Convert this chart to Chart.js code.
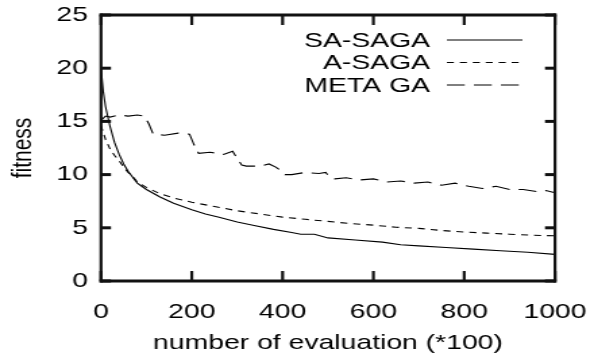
<!DOCTYPE html>
<html lang="en">
<head>
  <meta charset="UTF-8" />
  <title>fitness vs number of evaluation</title>
  <style>
    body { margin: 0; background: #fff; }
    #chart { display: block; }
  </style>
</head>
<body>
  <!-- drawn narrow and stretched sideways, like the original figure -->
  <canvas id="chart" width="440" height="356" style="width:594px;height:356px"></canvas>

  <script src="https://cdn.jsdelivr.net/npm/chart.js"></script>
  <script>
    // SA-SAGA (solid)
    const saX = [0, 5, 10, 20, 30, 40, 50, 60, 80, 100, 130, 160, 200, 230, 260, 300, 340, 380, 420, 440, 470, 500, 560, 620, 660, 700, 760, 820, 880, 940, 1000];
    const saY = [20, 17.8, 16.4, 14.5, 13, 11.9, 11, 10.3, 9.2, 8.6, 7.9, 7.3, 6.7, 6.3, 6.0, 5.55, 5.2, 4.85, 4.55, 4.4, 4.4, 4.05, 3.85, 3.65, 3.4, 3.3, 3.15, 3.0, 2.85, 2.7, 2.5];

    // A-SAGA (short dashes)
    const aX = [0, 10, 20, 30, 40, 50, 60, 70, 80, 100, 130, 160, 200, 250, 300, 350, 400, 450, 500, 550, 600, 650, 700, 750, 800, 850, 900, 950, 1000];
    const aY = [14.6, 13.3, 12.4, 11.8, 11.3, 10.7, 10.2, 9.8, 9.3, 8.8, 8.2, 7.8, 7.4, 7.0, 6.6, 6.3, 6.0, 5.8, 5.6, 5.4, 5.25, 5.05, 4.95, 4.75, 4.6, 4.5, 4.4, 4.3, 4.25];

    // META GA (long dashes)
    const metaX = [0, 10, 20, 40, 60, 80, 95, 105, 115, 140, 170, 195, 205, 215, 240, 270, 290, 300, 310, 320, 350, 370, 385, 395, 405, 420, 450, 480, 495, 505, 515, 540, 570, 600, 630, 660, 690, 720, 750, 780, 810, 840, 870, 900, 930, 960, 980, 1000];
    const metaY = [15.1, 15.5, 15.4, 15.6, 15.5, 15.6, 15.5, 14.8, 13.8, 13.7, 13.9, 13.8, 12.8, 12.0, 12.1, 11.9, 12.2, 11.5, 10.9, 10.8, 10.8, 11.0, 10.7, 10.4, 10.0, 10.0, 10.2, 10.1, 10.2, 9.7, 9.6, 9.7, 9.5, 9.6, 9.3, 9.4, 9.2, 9.3, 9.0, 9.2, 8.9, 8.7, 8.9, 8.6, 8.6, 8.4, 8.5, 8.3];

    const labels = ['SA-SAGA', 'A-SAGA', 'META GA'];

    function pts(xs, ys) {
      return xs.map((x, i) => ({ x: x, y: ys[i] }));
    }

    const FONT = '"Liberation Sans", Arial, sans-serif';
    const font = { family: FONT, size: 21 };
    const INK = '#111';

    // box round the plot with inward ticks on all four sides, then the key
    const frame = {
      id: 'frame',
      afterDraw(chart) {
        const ctx = chart.ctx;
        const a = chart.chartArea;
        const xs = chart.scales.x;
        const ys = chart.scales.y;
        ctx.save();
        ctx.fillStyle = INK;
        ctx.fillRect(a.left - 1.1, a.top - 1.5, 2.2, a.bottom - a.top + 3);
        ctx.fillRect(a.right - 1.1, a.top - 1.5, 2.2, a.bottom - a.top + 3);
        ctx.fillRect(a.left - 1.1, a.top - 1.5, a.right - a.left + 2.2, 3);
        ctx.fillRect(a.left - 1.1, a.bottom - 1.5, a.right - a.left + 2.2, 3);
        xs.ticks.forEach(t => {
          const px = xs.getPixelForValue(t.value);
          ctx.fillRect(px - 1.1, a.bottom - 10, 2.2, 10);
          ctx.fillRect(px - 1.1, a.top, 2.2, 10);
        });
        ys.ticks.forEach(t => {
          const py = ys.getPixelForValue(t.value);
          ctx.fillRect(a.left, py - 1.5, 7.4, 3);
          ctx.fillRect(a.right - 7.4, py - 1.5, 7.4, 3);
        });

        ctx.font = '21px ' + FONT;
        ctx.textAlign = 'right';
        ctx.textBaseline = 'middle';
        ctx.fillStyle = '#000';
        ctx.strokeStyle = '#000';
        ctx.lineWidth = 1;
        chart.data.datasets.forEach((ds, i) => {
          const ly = 40 + i * 22.5;
          ctx.fillText(ds.label, 318.5, ly + 1);
          ctx.setLineDash(ds.borderDash || []);
          ctx.beginPath();
          ctx.moveTo(331, ly);
          ctx.lineTo(387, ly);
          ctx.stroke();
        });
        ctx.restore();
      }
    };

    new Chart(document.getElementById('chart'), {
      type: 'line',
      data: {
        datasets: [
          { label: labels[0], data: pts(saX, saY), borderColor: '#000', borderWidth: 1.1, borderDash: [] },
          { label: labels[1], data: pts(aX, aY), borderColor: '#000', borderWidth: 1.1, borderDash: [5.2, 4.4] },
          { label: labels[2], data: pts(metaX, metaY), borderColor: '#000', borderWidth: 1.1, borderDash: [13.3, 6.7] }
        ]
      },
      options: {
        responsive: false,
        animation: false,
        layout: { padding: { top: 15, right: 28.9, left: 0, bottom: 0 } },
        elements: { point: { radius: 0 }, line: { tension: 0 } },
        plugins: { legend: { display: false }, tooltip: { enabled: false } },
        scales: {
          x: {
            type: 'linear',
            min: 0,
            max: 1000,
            afterFit(s) { s.height = 75; s.paddingLeft = 0; s.paddingRight = 0; },
            grid: { display: false, drawTicks: false },
            border: { display: false },
            ticks: { stepSize: 200, color: '#000', font: font, padding: 19, maxRotation: 0, autoSkip: false, callback: v => String(v) },
            title: { display: true, text: 'number of evaluation (*100)', color: '#000', font: font, padding: 0 }
          },
          y: {
            type: 'linear',
            min: 0,
            max: 25,
            afterFit(s) { s.width = 74.8; s.paddingTop = 0; s.paddingBottom = 0; },
            grid: { display: false, drawTicks: false },
            border: { display: false },
            ticks: { stepSize: 5, color: '#000', font: font, padding: 9.6, callback: v => String(v) },
            title: { display: true, text: 'fitness', color: '#000', font: font, padding: { top: 4.4, bottom: 0 } }
          }
        }
      },
      plugins: [frame]
    });
  </script>
</body>
</html>
